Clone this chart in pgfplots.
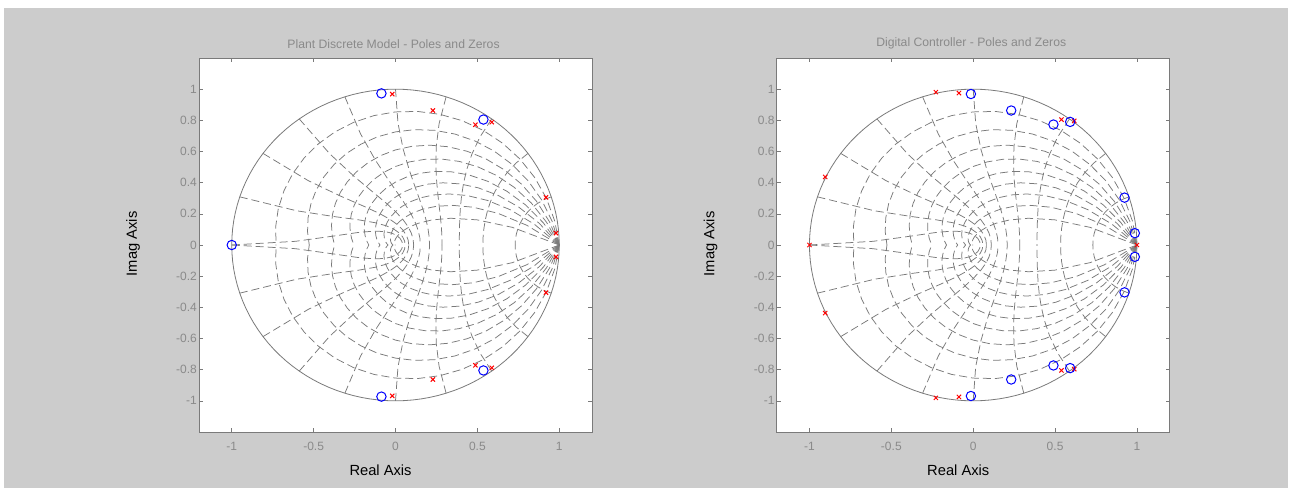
\documentclass[border=0pt]{standalone}
\usepackage{pgfplots}
\pgfplotsset{compat=1.18}
\usepackage{fontspec}
\setmainfont{Liberation Sans}
\definecolor{figgray}{HTML}{CCCCCC}
\definecolor{gridgray}{HTML}{7A7A7A}
\definecolor{labgray}{HTML}{8A8A8A}
\definecolor{boxgray}{HTML}{7A7A7A}

\newcommand{\zgrid}{%
  % unit circle
  \addplot[gridgray, line width=0.8pt, domain=0:360, samples=121, variable=\t] ({cos(\t)},{sin(\t)});
  % constant damping curves
  \pgfplotsinvokeforeach{0.1005,0.2041,0.3145,0.4364,0.5774,0.75,0.9802,1.3333,2.0647}{%
    \addplot[gridgray, line width=0.75pt, dash pattern=on 8pt off 4pt, domain=0:180, samples=21, variable=\t]
      ({exp(-##1*\t*pi/180)*cos(\t)},{exp(-##1*\t*pi/180)*sin(\t)});
    \addplot[gridgray, line width=0.75pt, dash pattern=on 8pt off 4pt, domain=0:180, samples=21, variable=\t]
      ({exp(-##1*\t*pi/180)*cos(\t)},{-exp(-##1*\t*pi/180)*sin(\t)});
  }
  % constant natural frequency curves
  \pgfplotsinvokeforeach{1,...,10}{%
    \addplot[gridgray, line width=0.75pt, dash pattern=on 8pt off 4pt, domain=90:180, samples=11, variable=\t]
      ({exp(##1*pi/10*cos(\t))*cos(##1*18*sin(\t))},{exp(##1*pi/10*cos(\t))*sin(##1*18*sin(\t))});
    \addplot[gridgray, line width=0.75pt, dash pattern=on 8pt off 4pt, domain=90:180, samples=11, variable=\t]
      ({exp(##1*pi/10*cos(\t))*cos(##1*18*sin(\t))},{-exp(##1*pi/10*cos(\t))*sin(##1*18*sin(\t))});
  }
}

\pgfplotsset{
  pzstyle/.style={
    scale only axis, width=393pt, height=374pt,
    xmin=-1.2, xmax=1.2, ymin=-1.2, ymax=1.2,
    axis background/.style={fill=white},
    axis line style={boxgray, line width=0.7pt},
    tick style={boxgray, line width=0.6pt},
    major tick length=4pt,
    tick align=inside, tick pos=both,
    xtick={-1,-0.5,0,0.5,1},
    xticklabels={-1,-0.5,0,0.5,1},
    ytick={-1,-0.8,-0.6,-0.4,-0.2,0,0.2,0.4,0.6,0.8,1},
    yticklabels={-1,-0.8,-0.6,-0.4,-0.2,0,0.2,0.4,0.6,0.8,1},
    ticklabel style={font=\fontsize{12}{14}\selectfont, text=labgray},
    xticklabel style={anchor=center, inner sep=0pt, yshift=-14.7pt},
    yticklabel style={anchor=east, inner sep=0pt, xshift=-2pt},
    title style={at={(axis description cs:0.495,1.015)}, anchor=south, yshift=-6pt, font=\fontsize{12.2}{14}\selectfont, text=labgray},
    xlabel style={at={(axis description cs:0.462,-0.1035)}, anchor=center, font=\fontsize{14.7}{16}\selectfont, text=black},
    ylabel style={at={(axis description cs:-0.168,0.503)}, anchor=center, font=\fontsize{14.7}{16}\selectfont, text=black},
    xlabel={Real Axis}, ylabel={Imag Axis},
    clip=true,
  },
  zeromark/.style={only marks, mark=o, mark size=4.7pt, draw=blue, mark options={line width=1pt, draw=blue, fill=none}},
  polemark/.style={only marks, mark=x, mark size=3pt, draw=red, mark options={line width=1pt, draw=red}},
}

\begin{document}
\begin{tikzpicture}[x=1pt,y=1pt]
\fill[white] (0,0) rectangle (1292,488);
\fill[figgray] (4,0) rectangle (1288,480);

\begin{axis}[pzstyle, at={(199pt,56pt)}, anchor=south west,
  title={Plant Discrete Model - Poles and Zeros}]
\zgrid
\addplot[zeromark] coordinates {(-1,0) (-0.086,0.973) (-0.086,-0.973) (0.537,0.805) (0.537,-0.805)};
\addplot[polemark] coordinates {(-0.02,0.968) (-0.02,-0.968) (0.228,0.863) (0.228,-0.863)
  (0.488,0.772) (0.488,-0.772) (0.588,0.788) (0.588,-0.788)
  (0.919,0.306) (0.919,-0.306) (0.98,0.076) (0.98,-0.076)};
\end{axis}

\begin{axis}[pzstyle, at={(776.7pt,56pt)}, anchor=south west,
  title={Digital Controller - Poles and Zeros}]
\zgrid
\addplot[polemark] coordinates {(-1,0) (-0.904,0.437) (-0.904,-0.437) (-0.228,0.981) (-0.228,-0.981)
  (-0.087,0.975) (-0.087,-0.975) (0.539,0.805) (0.539,-0.805) (0.617,0.797) (0.617,-0.797) (1.0,0)};
\addplot[zeromark] coordinates {(-0.014,0.969) (-0.014,-0.969) (0.232,0.863) (0.232,-0.863)
  (0.49,0.773) (0.49,-0.773) (0.592,0.79) (0.592,-0.79)
  (0.924,0.304) (0.924,-0.304) (0.987,0.076) (0.987,-0.076)};
\end{axis}
\end{tikzpicture}
\end{document}
